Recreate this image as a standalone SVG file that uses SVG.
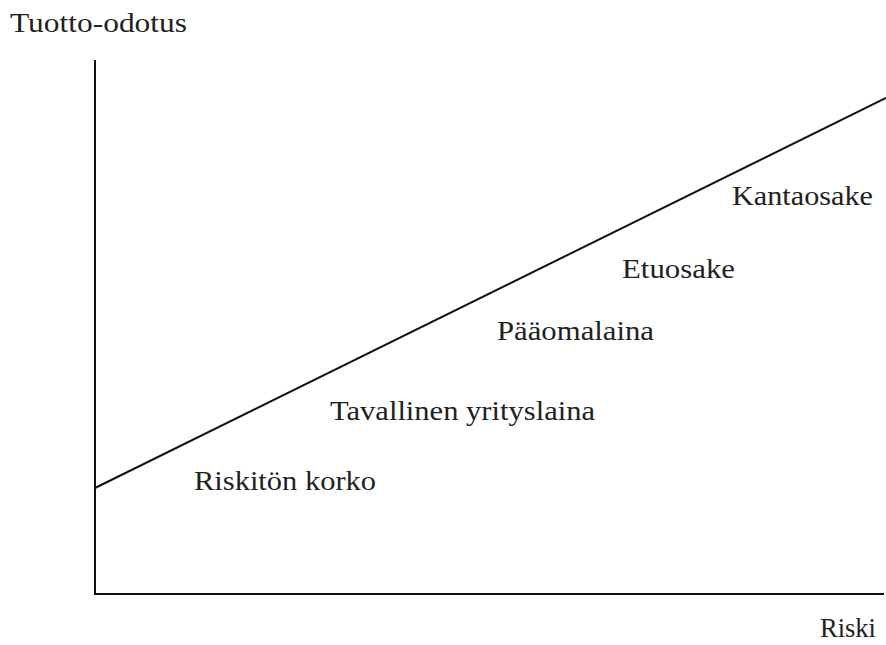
<svg xmlns="http://www.w3.org/2000/svg" width="886" height="645" viewBox="0 0 886 645">
<style>
text{font-family:"Liberation Serif","DejaVu Serif",serif;font-size:27px;fill:#222}
.ln{stroke:#111;stroke-width:2;fill:none}
</style>
<rect width="886" height="645" fill="#fff"/>
<g id="axes">
<line class="ln" x1="95" y1="60" x2="95" y2="595"/>
<line class="ln" x1="94" y1="594" x2="884" y2="594"/>
</g>
<g id="connectors">
<line class="ln" x1="95" y1="488" x2="886" y2="98"/>
</g>
<g id="labels">
<text id="y-label" x="10" y="32" textLength="177" lengthAdjust="spacingAndGlyphs">Tuotto-odotus</text>
<text id="kantaosake" x="732" y="205" textLength="141" lengthAdjust="spacingAndGlyphs">Kantaosake</text>
<text id="etuosake" x="622" y="278" textLength="113" lengthAdjust="spacingAndGlyphs">Etuosake</text>
<text id="paaomalaina" x="497" y="340" textLength="157" lengthAdjust="spacingAndGlyphs">Pääomalaina</text>
<text id="tavallinen" x="330" y="420" textLength="265" lengthAdjust="spacingAndGlyphs">Tavallinen yrityslaina</text>
<text id="riskiton" x="194" y="490" textLength="182" lengthAdjust="spacingAndGlyphs">Riskitön korko</text>
<text id="x-label" x="820" y="637" textLength="56" lengthAdjust="spacingAndGlyphs">Riski</text>
</g>
</svg>
